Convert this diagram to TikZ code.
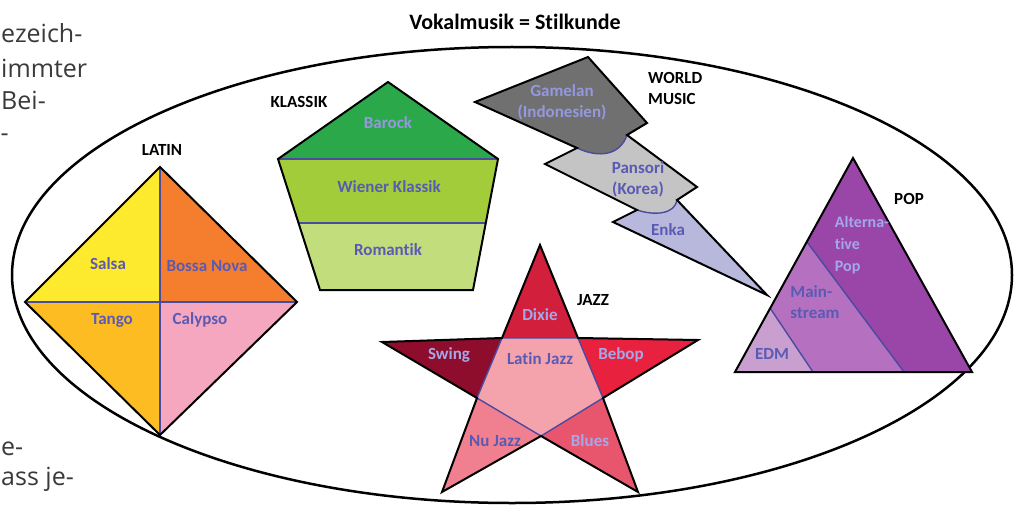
\documentclass[tikz,border=0pt]{standalone}
\usepackage{fontspec}
\setmainfont{Carlito}[Ligatures=NoCommon]
\newfontfamily\pagefont{Open Sans}
\usepackage{xcolor}
\usetikzlibrary{calc}

\definecolor{divblue}{HTML}{4A4AA0}
\definecolor{genreblue}{HTML}{5A5AB4}
\definecolor{genrelight}{HTML}{A4A8EA}
\definecolor{pagegray}{HTML}{3A3A3A}
% latin
\definecolor{salsa}{HTML}{FDE92E}
\definecolor{bossa}{HTML}{F47E2E}
\definecolor{tango}{HTML}{FDBD22}
\definecolor{calypso}{HTML}{F4A7BF}
% klassik
\definecolor{barock}{HTML}{2BA84A}
\definecolor{wiener}{HTML}{A3CC3A}
\definecolor{romantik}{HTML}{C2DD7C}
% world music
\definecolor{gamelan}{HTML}{707070}
\definecolor{pansori}{HTML}{C4C4C4}
\definecolor{enka}{HTML}{B8B8DC}
% jazz
\definecolor{dixie}{HTML}{D21F3C}
\definecolor{swing}{HTML}{8E0C2C}
\definecolor{bebop}{HTML}{E8213F}
\definecolor{latinjazz}{HTML}{F4A3AC}
\definecolor{nujazz}{HTML}{F0808F}
\definecolor{blues}{HTML}{E8566E}
% pop
\definecolor{edm}{HTML}{C99FD0}
\definecolor{mainstream}{HTML}{B571C0}
\definecolor{altpop}{HTML}{9A45A8}

\begin{document}
\begin{tikzpicture}[x=1pt,y=-1pt,
    outline/.style={draw=black,line width=2pt,line join=miter},
    divider/.style={draw=divblue,line width=1.4pt},
    category/.style={font=\bfseries\fontsize{17}{17}\selectfont,text=black,inner sep=0pt},
    genre/.style={font=\bfseries\fontsize{17}{21}\selectfont,text=genreblue,inner sep=0pt,align=center},
    genrelight/.style={genre,text=genrelight},
    pagetext/.style={font=\pagefont\fontsize{25}{25}\selectfont,text=pagegray,anchor=base west,inner sep=0pt}]
    \useasboundingbox (0,0) rectangle (1017,508);

    % text of the page around the picture
    \node[pagetext] (p1) at (1,43) {ezeich-};
    \node[pagetext] (p2) at (1,78) {immter};
    \node[pagetext] (p3) at (1,110) {Bei-};
    \node[pagetext] (p4) at (0.5,142) {-};
    \node[pagetext] (p5) at (1,455) {e-};
    \node[pagetext] (p6) at (1,485) {ass je-};

    \node[font=\bfseries\fontsize{22}{22}\selectfont] (title) at (515,22) {Vokalmusik = Stilkunde};
    \draw[line width=2.5pt] (512,275) ellipse (500 and 228);

    % LATIN
    \coordinate (lt) at (160,167);
    \coordinate (lr) at (297,302);
    \coordinate (lb) at (160,435);
    \coordinate (ll) at (25,302);
    \coordinate (lc) at (160,302);
    \fill[salsa] (ll) -- (lt) -- (lc) -- cycle;
    \fill[bossa] (lt) -- (lr) -- (lc) -- cycle;
    \fill[tango] (ll) -- (lc) -- (lb) -- cycle;
    \fill[calypso] (lc) -- (lr) -- (lb) -- cycle;
    \draw[divider] (lt) -- (lb) (ll) -- (lr);
    \draw[outline] (lt) -- (lr) -- (lb) -- (ll) -- cycle;
    \node[category] (latin) at (162,150) {LATIN};
    \node[genre] (salsa) at (108,264) {Salsa};
    \node[genre] (bossanova) at (207,266) {Bossa Nova};
    \node[genre] (tango) at (112,320) {Tango};
    \node[genre] (calypso) at (200,320) {Calypso};

    % KLASSIK
    \coordinate (kt) at (388,82);
    \coordinate (kul) at (278,159);
    \coordinate (kur) at (498,159);
    \coordinate (kbr) at (473,290);
    \coordinate (kbl) at (320,290);
    \coordinate (kml) at ($(kul)!0.49!(kbl)$);
    \coordinate (kmr) at ($(kur)!0.49!(kbr)$);
    \fill[barock] (kul) -- (kt) -- (kur) -- cycle;
    \fill[wiener] (kul) -- (kur) -- (kmr) -- (kml) -- cycle;
    \fill[romantik] (kml) -- (kmr) -- (kbr) -- (kbl) -- cycle;
    \draw[divider] (kul) -- (kur) (kml) -- (kmr);
    \draw[outline] (kt) -- (kur) -- (kbr) -- (kbl) -- (kul) -- cycle;
    \node[category] (klassik) at (299,102) {KLASSIK};
    \node[genre,text=genrelight!80!genreblue] (barock) at (388,123) {Barock};
    \node[genre] (wienerklassik) at (389,187) {Wiener Klassik};
    \node[genre] (romantik) at (388,250) {Romantik};

    % WORLD MUSIC
    \coordinate (wk) at (475,102);
    \coordinate (wa) at (588,57);
    \coordinate (wb) at (647,123);
    \coordinate (wc) at (627,135);
    \coordinate (wd) at (697,187);
    \coordinate (we) at (677,200);
    \coordinate (wf) at (767,295);
    \coordinate (wg) at (613,222);
    \coordinate (wh) at (637,210);
    \coordinate (wi) at (545,164);
    \coordinate (wj) at (577,148);
    \fill[gamelan] (wk) -- (wa) -- (wb) -- (wc) .. controls (620,156) and (598,158) .. (wj) -- cycle;
    \fill[pansori] (wj) .. controls (598,158) and (620,156) .. (wc) -- (wd) -- (we)
        .. controls (675,214) and (655,216) .. (wh) -- (wi) -- cycle;
    \fill[enka] (wh) .. controls (655,216) and (675,214) .. (we) -- (wf) -- (wg) -- cycle;
    \draw[divider] (wc) .. controls (620,156) and (598,158) .. (wj);
    \draw[divider] (we) .. controls (675,214) and (655,216) .. (wh);
    \draw[outline] (wk) -- (wa) -- (wb) -- (wc) -- (wd) -- (we) -- (wf) -- (wg) -- (wh)
        -- (wi) -- (wj) -- cycle;
    \node[category,align=left,anchor=west,font=\bfseries\fontsize{17}{21}\selectfont] (world) at (648,88) {WORLD\\MUSIC};
    \node[genre,text=genrelight!80!genreblue] (gamelan) at (562,102) {Gamelan\\(Indonesien)};
    \node[genre] (pansori) at (638,179) {Pansori\\(Korea)};
    \node[genre] (enka) at (668,230) {Enka};

    % JAZZ
    \coordinate (jt) at (540,245);
    \coordinate (jr) at (698,340);
    \coordinate (jbr) at (638,492);
    \coordinate (jbl) at (442,492);
    \coordinate (jl) at (382,342);
    \coordinate (jul) at (502,338);
    \coordinate (jur) at (578,338);
    \coordinate (jlr) at (603,398);
    \coordinate (jb) at (541,436);
    \coordinate (jll) at (477,398);
    \fill[dixie] (jt) -- (jur) -- (jul) -- cycle;
    \fill[bebop] (jur) -- (jr) -- (jlr) -- cycle;
    \fill[blues] (jlr) -- (jbr) -- (jb) -- cycle;
    \fill[nujazz] (jb) -- (jbl) -- (jll) -- cycle;
    \fill[swing] (jll) -- (jl) -- (jul) -- cycle;
    \fill[latinjazz] (jul) -- (jur) -- (jlr) -- (jb) -- (jll) -- cycle;
    \draw[divider] (jul) -- (jur) -- (jlr) -- (jb) -- (jll) -- cycle;
    \draw[outline] (jt) -- (jur) -- (jr) -- (jlr) -- (jbr) -- (jb) -- (jbl) -- (jll) -- (jl)
        -- (jul) -- cycle;
    \node[category] (jazz) at (593,300) {JAZZ};
    \node[genrelight] (dixie) at (540,315) {Dixie};
    \node[genrelight] (swing) at (449,355) {Swing};
    \node[genre] (latinjazz) at (540,359) {Latin Jazz};
    \node[genrelight] (bebop) at (621,355) {Bebop};
    \node[genre] (nujazz) at (495,441) {Nu Jazz};
    \node[genrelight] (blues) at (590,441) {Blues};

    % POP
    \coordinate (pt) at (853,158);
    \coordinate (pbl) at (735,372);
    \coordinate (pbr) at (972,372);
    \coordinate (pa) at (807,242);
    \coordinate (pa') at (904,372);
    \coordinate (pm) at (770,308);
    \coordinate (pm') at (813,372);
    \fill[edm] (pbl) -- (pm) -- (pm') -- cycle;
    \fill[mainstream] (pm) -- (pa) -- (pa') -- (pm') -- cycle;
    \fill[altpop] (pa) -- (pt) -- (pbr) -- (pa') -- cycle;
    \draw[divider] (pa) -- (pa') (pm) -- (pm');
    \draw[outline] (pt) -- (pbr) -- (pbl) -- cycle;
    \node[category] (pop) at (909,199) {POP};
    \node[genrelight,align=left,font=\bfseries\fontsize{16}{22}\selectfont] (altpop) at (862,245) {Alterna-\\tive\\Pop};
    \node[genre,align=left,font=\bfseries\fontsize{17}{21}\selectfont] (mainstreamlbl) at (815,302) {Main-\\stream};
    \node[genre] (edm) at (772,354) {EDM};
\end{tikzpicture}
\end{document}
